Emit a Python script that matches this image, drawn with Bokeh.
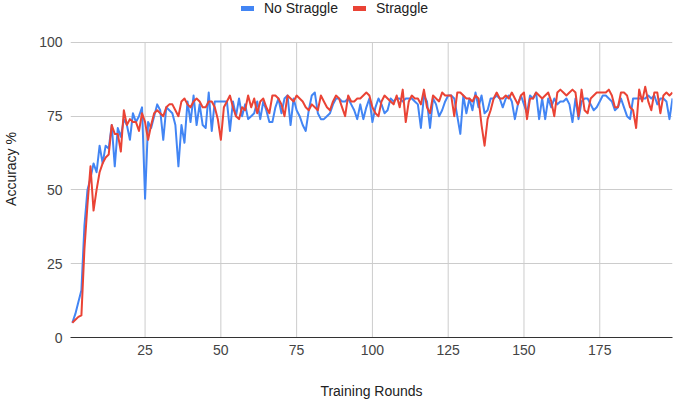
from bokeh.plotting import figure
from bokeh.models import Legend, LegendItem, FixedTicker, ColumnDataSource
from bokeh.embed import file_html
from bokeh.resources import INLINE

# Accuracy (%) per training round
rounds = list(range(1, 200))

no_straggle = [
    5, 8, 12, 16, 38, 50, 54, 59, 56, 65, 59, 65, 64, 72, 58, 71, 68, 74, 72, 67,
    76, 73, 75, 78, 47, 73, 71, 75, 79, 77, 67, 78, 77, 76, 72, 58, 72, 66, 80, 73,
    82, 72, 79, 72, 71, 83, 70, 80, 80, 80, 80, 80, 70, 80, 75, 81, 75, 79, 74, 75,
    76, 80, 74, 80, 77, 73, 73, 78, 81, 76, 81, 82, 72, 81, 77, 75, 72, 70, 77, 82,
    83, 76, 74, 74, 75, 76, 79, 81, 81, 80, 80, 81, 79, 77, 74, 79, 74, 78, 81, 73,
    78, 81, 79, 76, 77, 81, 80, 81, 81, 80, 81, 81, 81, 80, 79, 71, 82, 80, 71, 81,
    79, 75, 77, 80, 82, 82, 81, 75, 69, 82, 76, 81, 77, 83, 78, 82, 76, 77, 81, 81,
    82, 81, 78, 81, 82, 80, 74, 79, 82, 79, 76, 82, 81, 83, 74, 81, 74, 81, 78, 81,
    79, 80, 80, 81, 79, 73, 81, 74, 80, 81, 81, 79, 77, 78, 80, 82, 82, 81, 80, 77,
    78, 81, 78, 75, 74, 81, 81, 81, 81, 81, 82, 81, 82, 79, 81, 81, 80, 74, 81,
]

straggle = [
    5, 6, 7, 7.5, 30, 45, 58, 43, 50, 56, 59, 61, 62, 72, 69, 69, 63, 77, 72, 74,
    73, 73, 70, 76, 73, 67, 72, 76, 77, 76, 75, 78, 79, 79, 77, 75, 80, 81, 79, 78,
    80, 81, 80, 78, 78, 80, 80, 78, 74, 67, 78, 80, 82, 78, 75, 74, 78, 77, 82, 78,
    81, 76, 80, 81, 78, 76, 82, 82, 81, 79, 75, 82, 81, 80, 82, 81, 80, 78, 77, 79,
    78, 77, 82, 80, 78, 77, 80, 82, 81, 78, 75, 82, 80, 80, 81, 81, 82, 83, 82, 78,
    76, 75, 80, 82, 81, 80, 79, 82, 78, 84, 73, 80, 82, 81, 81, 79, 84, 78, 76, 82,
    81, 80, 83, 82, 82, 82, 75, 83, 83, 82, 81, 81, 80, 82, 81, 72, 65, 74, 77, 81,
    83, 81, 81, 82, 81, 83, 81, 79, 82, 83, 74, 81, 81, 83, 82, 81, 82, 83, 80, 75,
    83, 84, 83, 82, 83, 84, 83, 75, 84, 77, 76, 81, 82, 83, 83, 83, 83, 84, 82, 78,
    78, 83, 83, 82, 78, 77, 71, 84, 80, 85, 80, 77, 83, 83, 76, 82, 83, 82, 83,
]

x_ticks = [25, 50, 75, 100, 125, 150, 175]
y_ticks = [0, 25, 50, 75, 100]
y_max = 100

BLUE = "#4285F4"
RED = "#EA4335"
FONT = "Liberation Sans"

src = ColumnDataSource(dict(x=rounds, a=no_straggle, b=straggle))

# the frame runs to the top edge; the band above 100 holds the legend
p = figure(
    width=673, height=401,
    x_range=(0.4, 199), y_range=(0, 114.2),
    output_backend="svg", toolbar_location=None,
    min_border_left=70, min_border_right=1,
    min_border_top=0, min_border_bottom=63,
    background_fill_color="white", border_fill_color="white",
)
p.outline_line_color = None

# horizontal grid from the axis ticker, vertical grid lines stop at 100
p.xgrid.visible = False
p.ygrid.ticker = FixedTicker(ticks=y_ticks)
p.ygrid.grid_line_color = "#cccccc"
p.ygrid.grid_line_width = 1
p.segment(x0=x_ticks, y0=[0] * len(x_ticks), x1=x_ticks, y1=[y_max] * len(x_ticks),
          line_color="#cccccc", line_width=1)

p.line("x", "a", source=src, line_color=BLUE, line_width=2, line_join="round")
p.line("x", "b", source=src, line_color=RED, line_width=2, line_join="round")

# axes
p.xaxis.ticker = FixedTicker(ticks=x_ticks)
p.yaxis.ticker = FixedTicker(ticks=y_ticks)
for ax in (p.xaxis[0], p.yaxis[0]):
    ax.major_tick_line_color = None
    ax.minor_tick_line_color = None
    ax.major_tick_out = 0
    ax.major_label_text_font = FONT
    ax.major_label_text_font_size = "14px"
    ax.major_label_text_color = "#444444"
    ax.axis_label_text_font = FONT
    ax.axis_label_text_font_size = "14px"
    ax.axis_label_text_font_style = "normal"
    ax.axis_label_text_color = "#222222"

p.xaxis.axis_label = "Training Rounds"
p.xaxis.axis_line_color = "#333333"
p.xaxis.axis_line_width = 1
p.xaxis.major_label_standoff = 7
p.xaxis.axis_label_standoff = 25

p.yaxis.axis_label = "Accuracy %"
p.yaxis.axis_line_color = None
p.yaxis.major_label_standoff = 8
p.yaxis.axis_label_standoff = 17

# legend swatches (thicker than the series lines, never drawn in the plot)
nan = float("nan")
sw_a = p.line(x=[nan], y=[nan], line_color=BLUE, line_width=5, line_cap="round")
sw_b = p.line(x=[nan], y=[nan], line_color=RED, line_width=5, line_cap="round")

legend = Legend(
    items=[LegendItem(label="No Straggle", renderers=[sw_a]),
           LegendItem(label="Straggle", renderers=[sw_b])],
    orientation="horizontal",
    location=(171, 321),
    padding=0, margin=0, spacing=15,
    label_standoff=10, glyph_width=13, glyph_height=14,
    label_height=14,
    label_text_font=FONT, label_text_font_size="14px",
    label_text_color="#222222",
    border_line_color=None, background_fill_alpha=0,
)
p.add_layout(legend)

open("out.html", "w").write(file_html(p, INLINE))
